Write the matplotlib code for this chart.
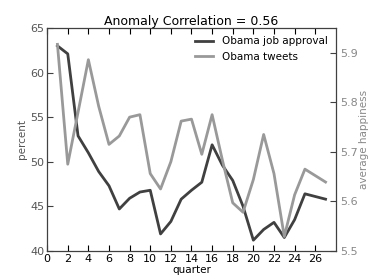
import numpy as np
import matplotlib
matplotlib.use("Agg")
import matplotlib.pyplot as plt

# quarterly data
quarters = list(range(1, 28))
approval = [63.0, 62.1, 52.9, 51.0, 48.9, 47.3, 44.7, 45.9, 46.6, 46.8,
            41.9, 43.3, 45.8, 46.8, 47.7, 51.9, 49.6, 47.9, 45.0, 41.2,
            42.4, 43.2, 41.5, 43.5, 46.4, 46.1, 45.8]
happiness = [5.917, 5.675, 5.780, 5.886, 5.792, 5.715, 5.732, 5.770, 5.775, 5.656,
             5.625, 5.680, 5.762, 5.766, 5.695, 5.775, 5.683, 5.597, 5.578, 5.644,
             5.735, 5.656, 5.529, 5.613, 5.665, 5.652, 5.639]

dark = '#404040'
light = '#999999'

plt.rcParams['font.size'] = 7.5
plt.rcParams['xtick.direction'] = 'in'
plt.rcParams['ytick.direction'] = 'in'

fig = plt.figure(figsize=(3.74, 2.8), dpi=100)
ax = fig.add_axes([0.126, 0.104, 0.772, 0.796])
ax2 = ax.twinx()

l1, = ax.plot(quarters, approval, color=dark, lw=2, label='Obama job approval')
l2, = ax2.plot(quarters, happiness, color=light, lw=2, label='Obama tweets')

ax.set_xlim(0, 28)
ax.set_ylim(40, 65)
ax.set_xticks(np.arange(0, 28, 2))
ax.set_yticks(np.arange(40, 66, 5))
ax2.set_ylim(5.5, 5.95)
ax2.set_yticks([5.5, 5.6, 5.7, 5.8, 5.9])

ax.tick_params(axis='x', top=True, length=4, pad=2, colors='black', labelsize=8)
ax.tick_params(axis='y', length=4, pad=2, colors=dark, labelcolor='#555555', labelsize=8)
ax2.tick_params(axis='y', length=4, pad=3, colors=dark, labelcolor='#888888', labelsize=8)
for s in ax2.spines.values():
    s.set_color(dark)

ax.set_xlabel('quarter', labelpad=1)
ax.set_ylabel('percent', color='#555555', labelpad=2)
ax2.set_ylabel('average happiness', color='#888888', labelpad=1)
ax.set_title('Anomaly Correlation = 0.56', fontsize=9, pad=2)

ax.legend([l1, l2], ['Obama job approval', 'Obama tweets'], loc='upper right',
          frameon=False, fontsize=7.5, handlelength=1.8, borderaxespad=0.4)

fig.savefig('out.png', dpi=100)
